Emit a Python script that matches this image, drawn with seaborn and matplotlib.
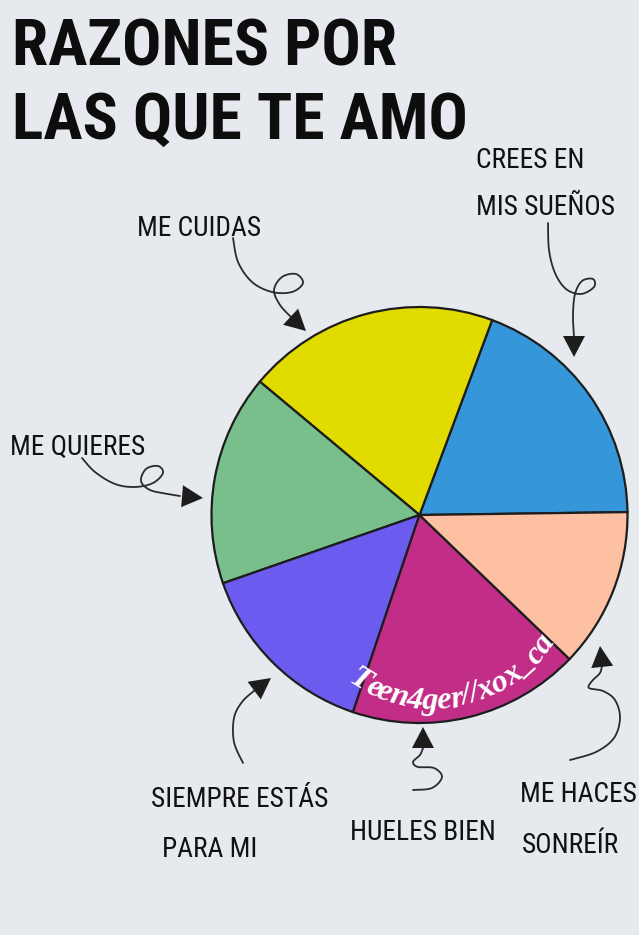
import numpy as np
import matplotlib
matplotlib.use("Agg")
import matplotlib.pyplot as plt
import seaborn as sns
from matplotlib import font_manager as fm
from matplotlib.font_manager import FontProperties

# ---- data ----
razones = ["CREES EN\nMIS SUEÑOS", "ME CUIDAS", "ME QUIERES",
           "SIEMPRE ESTÁS\nPARA MI", "HUELES BIEN", "ME HACES\nSONREÍR"]
porcentajes = [19.1, 19.6, 16.4, 14.5, 18.0, 12.4]
colores = ["#3597d9", "#e2db00", "#78bf8b", "#6c5bef", "#c22e87", "#fdc0a2"]
titulo = ["RAZONES POR", "LAS QUE TE AMO"]
firma = "Teen4ger//xox_ca"

BG = "#e6eaee"
INK = "#1d1d1d"
W, H = 639, 935


def pick_family(names):
    available = {f.name for f in fm.fontManager.ttflist}
    for n in names:
        if n in available:
            return n
    return "DejaVu Sans"


def spline(pts, n=24):
    """Catmull-Rom curve through the given points."""
    pts = np.asarray(pts, float)
    p = np.vstack([pts[0], pts, pts[-1]])
    out = []
    t = np.linspace(0, 1, n, endpoint=False)[:, None]
    for i in range(1, len(p) - 2):
        p0, p1, p2, p3 = p[i - 1], p[i], p[i + 1], p[i + 2]
        out.append(0.5 * (2 * p1 + (-p0 + p2) * t
                          + (2 * p0 - 5 * p1 + 4 * p2 - p3) * t ** 2
                          + (-p0 + 3 * p1 - 3 * p2 + p3) * t ** 3))
    out.append(p[-2][None])
    return np.vstack(out)


def curly_arrow(ax, via, tip, head=21, half=11):
    curve = spline(via)
    ax.plot(curve[:, 0], curve[:, 1], color="#2b2b2b", lw=1.3,
            solid_capstyle="round", zorder=4)
    tail = np.asarray(via[-1], float)
    tip = np.asarray(tip, float)
    d = tip - tail
    d /= np.hypot(*d)
    nrm = np.array([-d[1], d[0]])
    base = tip - d * head
    tri = np.array([tip, base + nrm * half, base - nrm * half])
    ax.fill(tri[:, 0], tri[:, 1], color=INK, zorder=5, lw=0)


sns.set_theme(style="white", rc={"figure.facecolor": BG, "axes.facecolor": BG})

label_family = pick_family(["Liberation Sans Narrow", "Roboto Condensed",
                            "Open Sans Condensed", "Liberation Sans"])
title_family = pick_family(["Roboto Condensed", "Liberation Sans Narrow",
                            "Roboto", "DejaVu Sans"])

fig = plt.figure(figsize=(W / 100, H / 100), dpi=100)
ax = fig.add_axes([0, 0, 1, 1])

# pie (y axis runs downward, so angles are mirrored)
cx, cy, R = 419.5, 515, 208
ax.pie(porcentajes, colors=colores, startangle=-0.8, counterclock=False,
       center=(cx, cy), radius=R,
       wedgeprops=dict(edgecolor=INK, linewidth=1.6))
ax.set_xlim(0, W)
ax.set_ylim(H, 0)
ax.set_aspect("equal")
ax.axis("off")

renderer = fig.canvas.get_renderer()


def width_px(s, prop):
    w, _, _ = renderer.get_text_width_height_descent(s, prop, ismath=False)
    return w


def fit_size(s, target_w, prop, target_cap=None):
    p = prop.copy()
    p.set_size(100)
    size = 100 * target_w / width_px(s, p)
    if target_cap:
        _, h, d = renderer.get_text_width_height_descent("H", p, ismath=False)
        size = min(size, 100 * target_cap / (h - d))
    return size


# title
tprop = FontProperties(family=title_family, weight="black")
tprop.set_size(fit_size(titulo[1], 456, tprop, 48))
for line, base_y in zip(titulo, [65, 139]):
    ax.text(12, base_y, line, fontproperties=tprop,
            color="#0d0d0d", va="baseline", ha="left")

# labels: (x of each line, baseline of each line)
lprop = FontProperties(family=label_family)
lprop.set_size(fit_size("ME CUIDAS", 124, lprop))
label_pos = [
    ([476, 476], [168, 215]),
    ([137], [236]),
    ([10], [455]),
    ([151, 162], [807, 857]),
    ([350], [840]),
    ([520, 522], [802, 853]),
]
for text, (xs, ys) in zip(razones, label_pos):
    for line, x, y in zip(text.split("\n"), xs, ys):
        ax.text(x, y, line, fontproperties=lprop,
                color="#111111", va="baseline", ha="left")

# arrows from the labels to the pie
arrows = [
    ([(548, 223), (549, 250), (555, 273), (566, 289), (581, 294), (594, 287),
      (593, 279), (582, 281), (575, 294), (573, 315), (574, 337)], (574, 357)),
    ([(233, 238), (238, 262), (252, 282), (272, 292), (292, 292), (303, 283),
      (296, 274), (282, 277), (274, 290), (280, 305), (292, 318)], (306, 331)),
    ([(82, 458), (95, 472), (115, 484), (135, 487), (153, 483), (163, 473),
      (158, 466), (146, 469), (141, 481), (150, 490), (168, 494), (180, 496)],
     (203, 498)),
    ([(243, 763), (234, 742), (234, 718), (242, 702), (255, 690)], (271, 678)),
    ([(413, 790), (432, 788), (442, 777), (434, 768), (418, 767), (413, 762),
      (420, 755), (423, 748)], (423, 727)),
    ([(570, 760), (596, 752), (614, 738), (620, 718), (615, 700), (603, 691),
      (589, 688), (592, 681), (600, 673), (602, 665)], (600, 646)),
]
for via, tip in arrows:
    curly_arrow(ax, via, tip)

# signature written along an arc inside the magenta slice
fprop = FontProperties(family=["Liberation Serif", "DejaVu Serif"],
                       style="italic", weight="bold")
fprop.set_size(fit_size(firma, 236, fprop))
acx, acy, ar = 432, 563, 146
total = width_px(firma, fprop)
mid = np.deg2rad(79)
for i, ch in enumerate(firma):
    s = (width_px(firma[:i], fprop) if i else 0) + width_px(ch, fprop) / 2
    phi = mid - (s - total / 2) / ar
    x = acx + ar * np.cos(phi)
    y = acy + ar * np.sin(phi)
    ax.text(x, y, ch, fontproperties=fprop, color="white", ha="center",
            va="baseline", rotation=90 - np.rad2deg(phi),
            rotation_mode="anchor", zorder=6)

fig.savefig("out.png", dpi=100, facecolor=BG)
